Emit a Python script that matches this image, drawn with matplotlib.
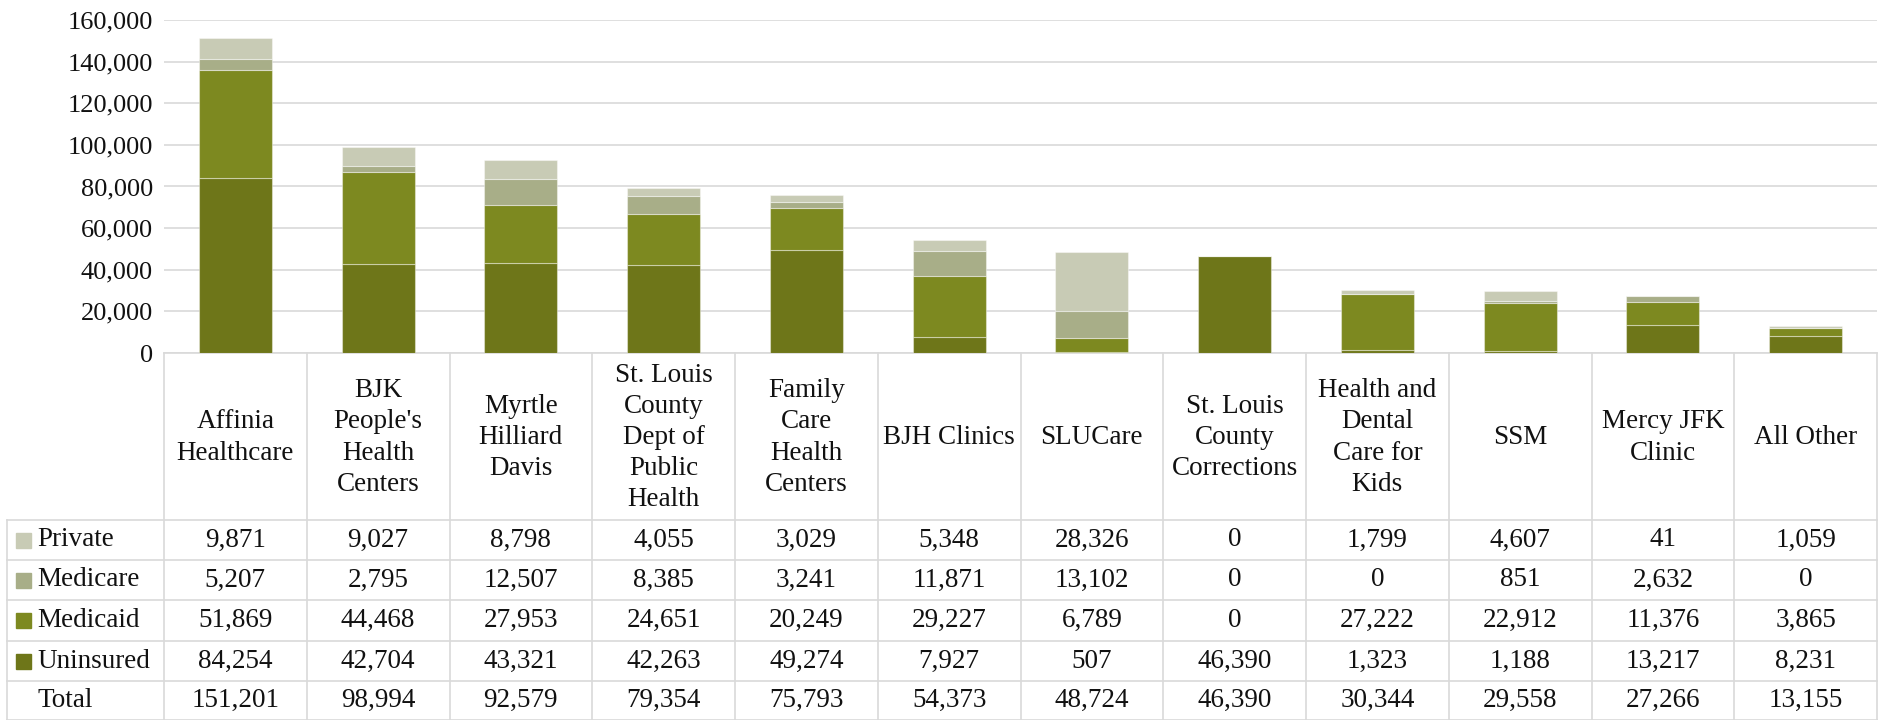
import matplotlib
matplotlib.use("Agg")
import matplotlib.pyplot as plt
from matplotlib.patches import Rectangle
from matplotlib.ticker import FuncFormatter

plt.rcParams['font.family'] = ['Liberation Serif', 'DejaVu Serif']

categories = ["Affinia\nHealthcare", "BJK\nPeople's\nHealth\nCenters", "Myrtle\nHilliard\nDavis",
              "St. Louis\nCounty\nDept of\nPublic\nHealth", "Family\nCare\nHealth\nCenters",
              "BJH Clinics", "SLUCare", "St. Louis\nCounty\nCorrections",
              "Health and\nDental\nCare for\nKids", "SSM", "Mercy JFK\nClinic", "All Other"]
private = [9871, 9027, 8798, 4055, 3029, 5348, 28326, 0, 1799, 4607, 41, 1059]
medicare = [5207, 2795, 12507, 8385, 3241, 11871, 13102, 0, 0, 851, 2632, 0]
medicaid = [51869, 44468, 27953, 24651, 20249, 29227, 6789, 0, 27222, 22912, 11376, 3865]
uninsured = [84254, 42704, 43321, 42263, 49274, 7927, 507, 46390, 1323, 1188, 13217, 8231]
totals = [151201, 98994, 92579, 79354, 75793, 54373, 48724, 46390, 30344, 29558, 27266, 13155]
series_names = ["Private", "Medicare", "Medicaid", "Uninsured"]
colors = {"Uninsured": "#6E7619", "Medicaid": "#7D8920", "Medicare": "#A8AE88", "Private": "#C8CBB5"}
yticks = [0, 20000, 40000, 60000, 80000, 100000, 120000, 140000, 160000]

W, H = 1879, 720
fig = plt.figure(figsize=(W / 100, H / 100), dpi=100)

# pixel layout
ax_l, ax_r, ax_t, ax_b = 164, 1877, 20, 353
tab_l = 7
grid_c = "#D9D9D9"
n = len(categories)
colw = (ax_r - ax_l) / n

ax = fig.add_axes([ax_l / W, 1 - ax_b / H, (ax_r - ax_l) / W, (ax_b - ax_t) / H])
x = list(range(n))
stack = [("Uninsured", uninsured), ("Medicaid", medicaid), ("Medicare", medicare), ("Private", private)]
bottom = [0] * n
for name, vals in stack:
    ax.bar(x, vals, 0.51, bottom=bottom, color=colors[name], edgecolor=(1, 1, 1, 0.4), linewidth=0.8, zorder=3)
    bottom = [b + v for b, v in zip(bottom, vals)]
ax.set_xlim(-0.5, n - 0.5)
ax.set_ylim(0, 160000)
ax.set_yticks(yticks)
ax.yaxis.set_major_formatter(FuncFormatter(lambda v, p: f"{int(v):,}"))
ax.tick_params(axis='y', length=0, labelsize=19, pad=8, labelcolor="#111111")
ax.set_xticks([])
ax.grid(axis='y', color=grid_c, linewidth=1.2, zorder=0)
for s in ["top", "right", "left"]:
    ax.spines[s].set_visible(False)
ax.spines["bottom"].set_color(grid_c)
ax.spines["bottom"].set_linewidth(1.2)

# table axes: x in category units, y in pixel rows
xl = -0.5 - (ax_l - tab_l) / colw
tab = fig.add_axes([tab_l / W, 0, (ax_r - tab_l) / W, (H - ax_b) / H])
tab.set_xlim(xl, n - 0.5)
tab.set_ylim(H, ax_b)
tab.axis("off")

hdr_bot = 520
row_edges = [520, 560, 600, 641, 681, 719.5]
lw = 1.2
for i in range(n + 1):
    tab.plot([i - 0.5, i - 0.5], [ax_b, H], color=grid_c, lw=lw, clip_on=False)
tab.plot([xl, xl], [hdr_bot, H], color=grid_c, lw=lw, clip_on=False)
for y in row_edges:
    tab.plot([xl, n - 0.5], [y, y], color=grid_c, lw=lw, clip_on=False)

fs = 19.5
for i, c in enumerate(categories):
    tab.text(i, (ax_b + hdr_bot) / 2 + 1, c, ha="center", va="center", fontsize=fs,
             linespacing=1.32, color="#111111")

rows = [("Private", private), ("Medicare", medicare), ("Medicaid", medicaid), ("Uninsured", uninsured), ("Total", totals)]
px = (n - 0.5 - xl) / (ax_r - tab_l)
for r, (name, vals) in enumerate(rows):
    yc = (row_edges[r] + row_edges[r + 1]) / 2
    if name in colors:
        tab.add_patch(Rectangle((xl + 9 * px, yc - 7.5), 15 * px, 15, color=colors[name], clip_on=False))
    tab.text(xl + 30 * px, yc, name, ha="left", va="center", fontsize=fs, color="#111111")
    for i, v in enumerate(vals):
        tab.text(i, yc, f"{v:,}", ha="center", va="center", fontsize=fs, color="#111111")

fig.savefig("out.png", dpi=100)
